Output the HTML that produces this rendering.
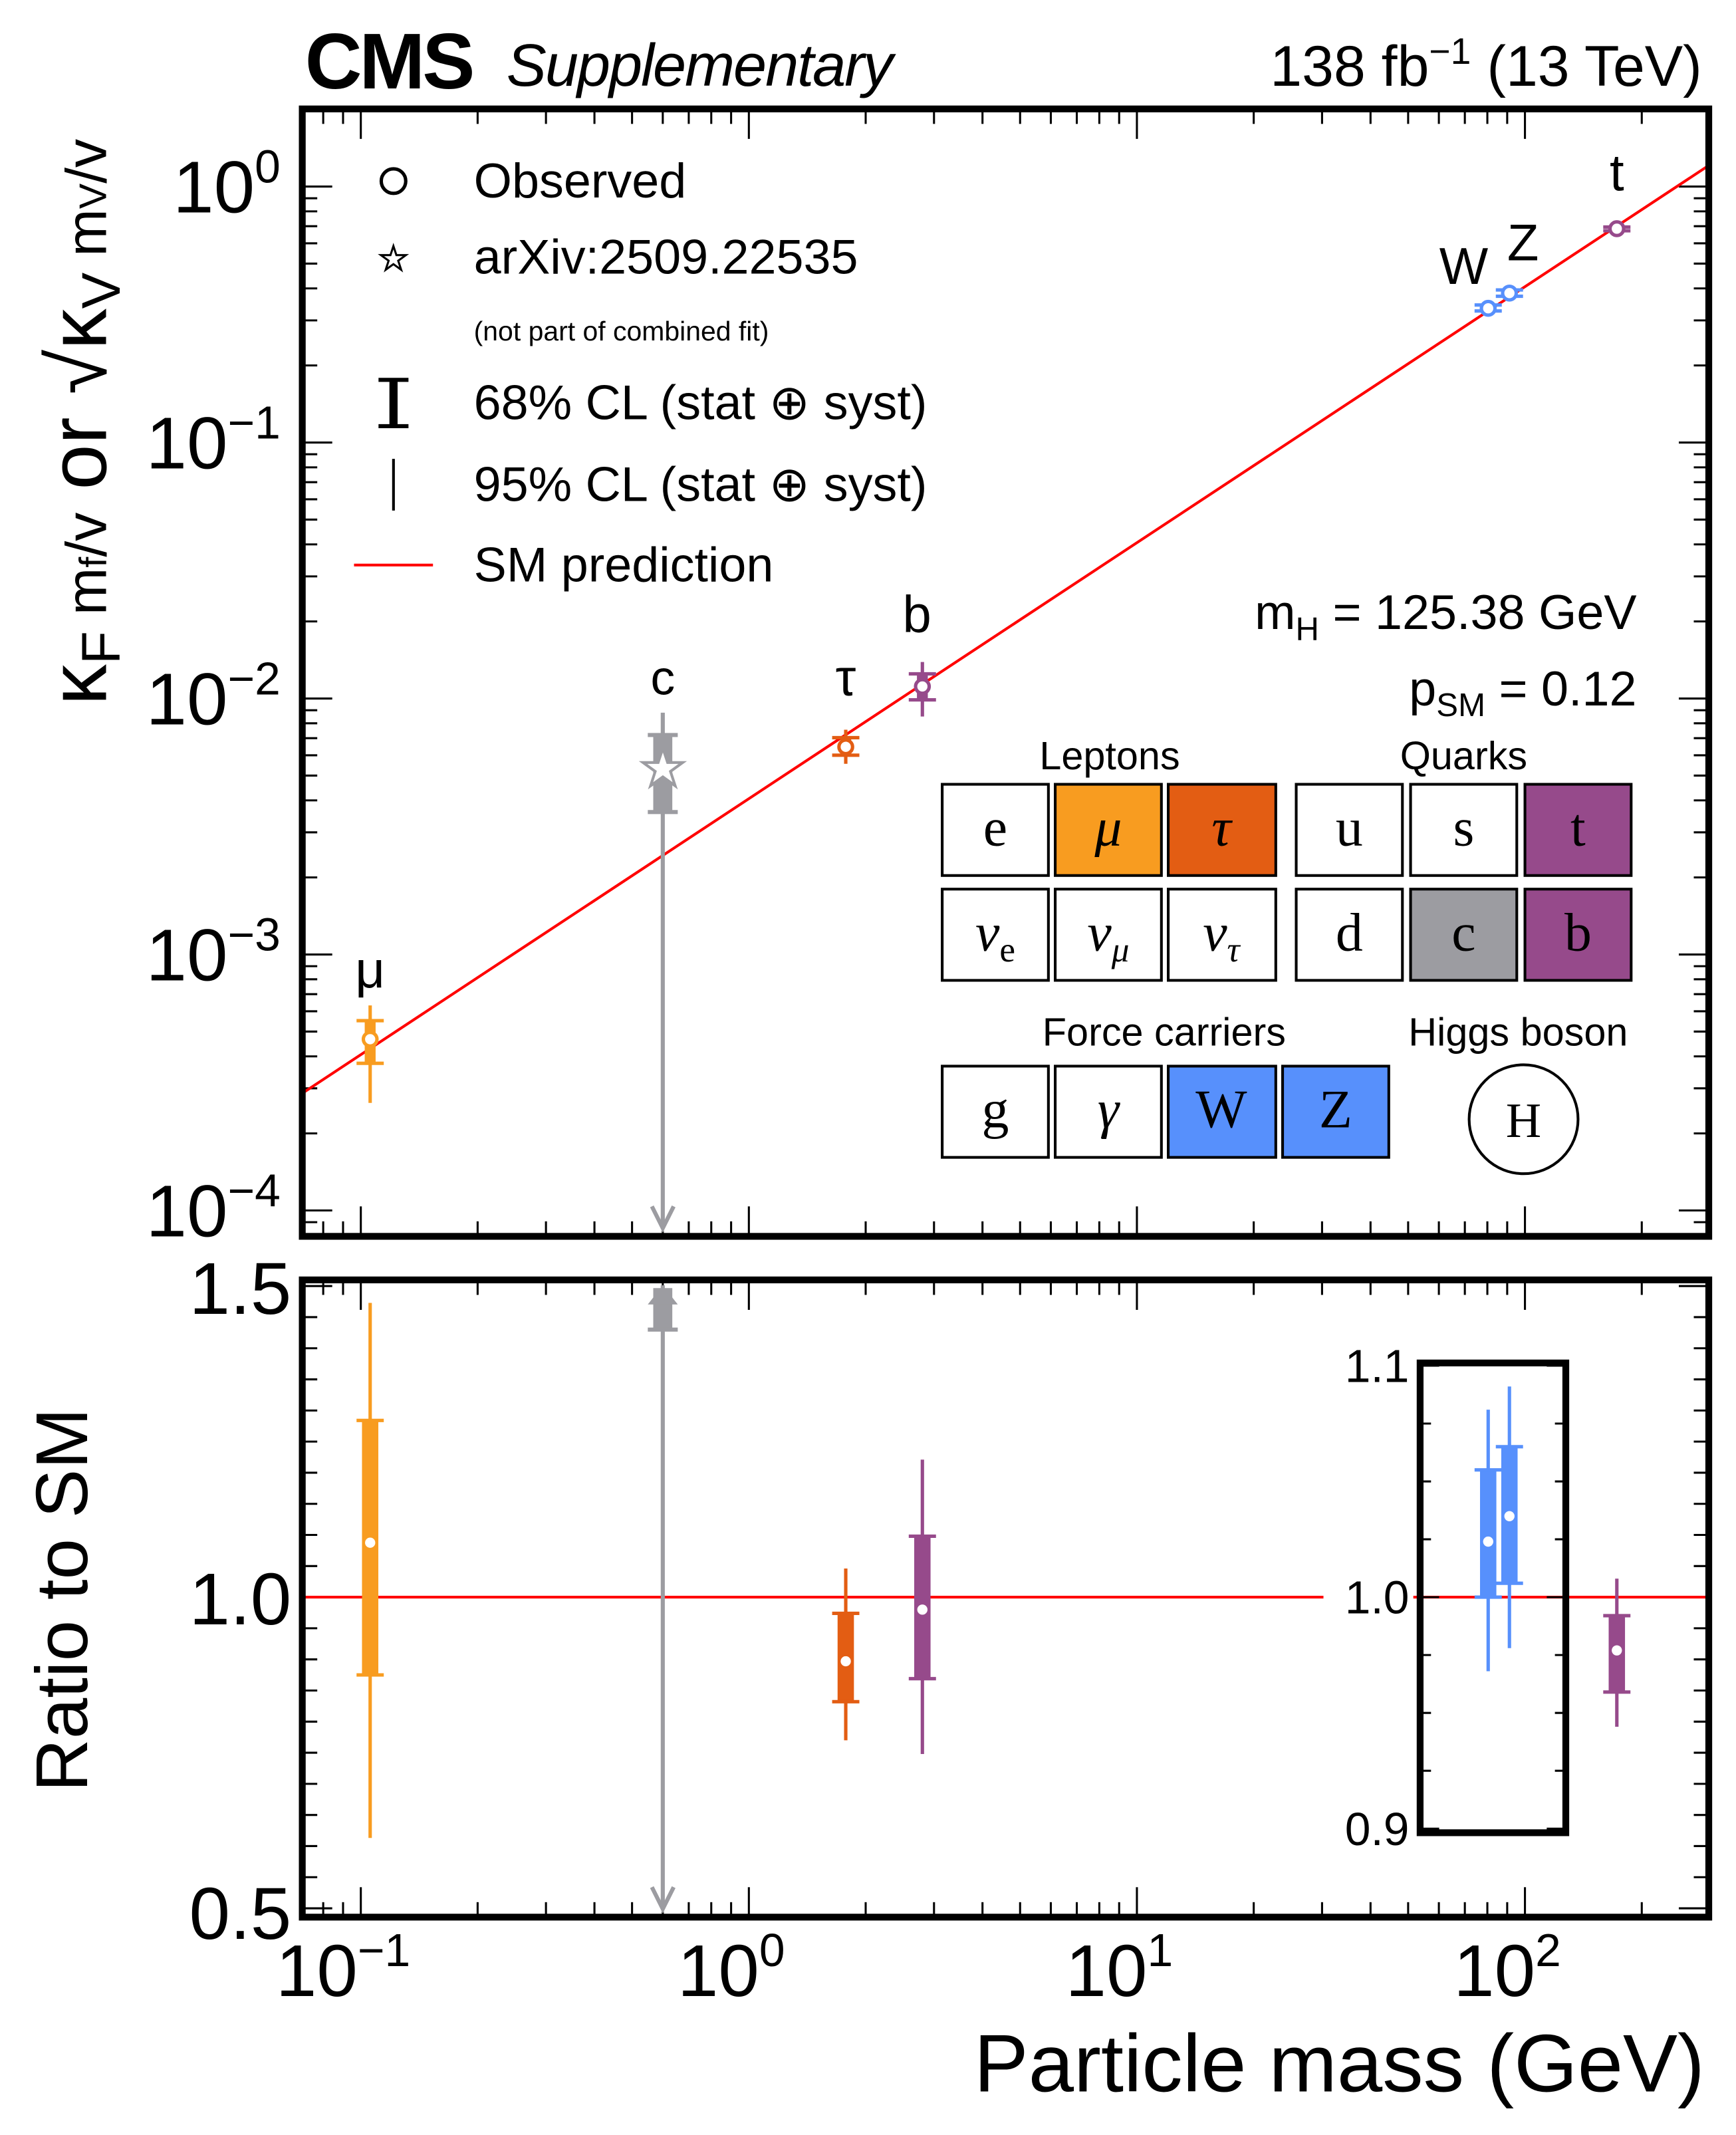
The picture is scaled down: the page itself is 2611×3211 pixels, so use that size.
<!DOCTYPE html>
<html><head><meta charset="utf-8"><style>
html,body{margin:0;padding:0;background:#fff}
svg{display:block;font-family:"Liberation Sans",sans-serif}
</style></head><body>
<svg id="c" width="2611" height="3211" viewBox="0 0 1275 1568" xmlns="http://www.w3.org/2000/svg">
<rect width="1275" height="1568" fill="#fff"/>
<g id="g"></g>
</svg>
<script>
const names=["mu","tau","b","W","Z","t"];
const masses=[0.1057,1.777,2.8,80.4,91.2,172.5];
const ratio=[1.0875,0.897,0.98,1.024,1.035,0.977];
const r68lo=[0.875,0.832,0.869,1.0,1.006,0.959];
const r68hi=[1.284,0.974,1.098,1.055,1.065,0.992];
const r95lo=[0.613,0.77,0.748,0.968,0.978,0.944];
const r95hi=[1.473,1.046,1.221,1.081,1.091,1.008];
const inInset=[false,false,false,true,true,true];
const colors=["#f89c20","#e35d13","#964a8b","#5790fc","#5790fc","#964a8b"];
const labels=["μ","τ","b","W","Z","t"];
const cMass=0.6, cStar=0.0053, c68=[0.0036,0.0072], c95hi=0.0088;
const vev=246.22;
const NS="http://www.w3.org/2000/svg";
const g=document.getElementById('g');
function el(t,a,txt){const e=document.createElementNS(NS,t);for(const k in a)e.setAttribute(k,a[k]);if(txt!=null)e.textContent=txt;g.appendChild(e);return e;}
const X0=222,X1=1255;
const xs=m=>265+285*(Math.log10(m)+1);
const yt=v=>137-188*Math.log10(v);
const yb=r=>1173-457*(r-1);
const yi=r=>1173-1700*(r-1);
const T0=80,T1=908,B0=940,B1=1408;
function xticks(y0,y1){
 for(let d=-2;d<=3;d++)for(let k=1;k<10;k++){const m=k*Math.pow(10,d);const x=xs(m);if(x<=X0||x>=X1)continue;const L=k==1?22:11;
  el('line',{x1:x,x2:x,y1:y0,y2:y0+L,stroke:'#000','stroke-width':1.5});el('line',{x1:x,x2:x,y1:y1,y2:y1-L,stroke:'#000','stroke-width':1.5});}
}
xticks(T0,T1);xticks(B0,B1);
for(let d=-5;d<=1;d++)for(let k=1;k<10;k++){const v=k*Math.pow(10,d);const y=yt(v);if(y<=T0||y>=T1)continue;const L=k==1?22:11;
 el('line',{x1:X0,x2:X0+L,y1:y,y2:y,stroke:'#000','stroke-width':1.5});el('line',{x1:X1,x2:X1-L,y1:y,y2:y,stroke:'#000','stroke-width':1.5});}
for(let i=0;i<=20;i++){const r=0.5+i*0.05;const y=yb(r);if(y<=B0+2||y>=B1-2)continue;const L=(i%10==0)?22:11;
 el('line',{x1:X0,x2:X0+L,y1:y,y2:y,stroke:'#000','stroke-width':1.5});el('line',{x1:X1,x2:X1-L,y1:y,y2:y,stroke:'#000','stroke-width':1.5});}
const mL=Math.pow(10,(X0-265)/285-1),mR=Math.pow(10,(X1-265)/285-1);
let e=el('line',{x1:X0,y1:yt(mL/vev),x2:X1,y2:yt(mR/vev),stroke:'#f00','stroke-width':2});

e=el('line',{x1:X0,y1:1173,x2:X1,y2:1173,stroke:'#f00','stroke-width':2});

el('rect',{x:972,y:1158,width:66,height:30,fill:'#fff'});
e=el('rect',{x:1043,y:1001,width:107,height:345,fill:'none',stroke:'#000','stroke-width':5});

[[1.1,"1.1"],[1.0,"1.0"],[0.9,"0.9"]].forEach(([v,s])=>{el('text',{x:1035,y:yi(v)+12,'font-size':34,'text-anchor':'end'},s);});
for(let i=0;i<=8;i++){const r=0.9+i*0.025;const y=yi(r);const L=(i%4==0)?14:8;
 el('line',{x1:1043,x2:1043+L,y1:y,y2:y,stroke:'#000','stroke-width':1.5});el('line',{x1:1150,x2:1150-L,y1:y,y2:y,stroke:'#000','stroke-width':1.5});}
const cx=xs(cMass);
e=el('line',{x1:cx,x2:cx,y1:yt(c95hi),y2:T1-6,stroke:'#9c9ca1','stroke-width':3});
el('path',{d:`M${cx-8} ${T1-22}L${cx} ${T1-6}L${cx+8} ${T1-22}`,fill:'none',stroke:'#9c9ca1','stroke-width':3});
e=el('rect',{x:cx-7,y:yt(c68[1]),width:14,height:yt(c68[0])-yt(c68[1]),fill:'#9c9ca1'});
el('line',{x1:cx-11,x2:cx+11,y1:yt(c68[1]),y2:yt(c68[1]),stroke:'#9c9ca1','stroke-width':3});
el('line',{x1:cx-11,x2:cx+11,y1:yt(c68[0]),y2:yt(c68[0]),stroke:'#9c9ca1','stroke-width':3});
e=el('text',{x:cx,y:yt(cStar)+12,'font-size':38,'text-anchor':'middle',fill:'#fff',stroke:'#9c9ca1','stroke-width':2},'★');
e=el('text',{x:cx,y:510,'font-size':36,'text-anchor':'middle'},'c');
el('line',{x1:cx,x2:cx,y1:B0+4,y2:B1-6,stroke:'#9c9ca1','stroke-width':3});
el('path',{d:`M${cx-8} ${B1-22}L${cx} ${B1-6}L${cx+8} ${B1-22}`,fill:'none',stroke:'#9c9ca1','stroke-width':3});
el('rect',{x:cx-7,y:B0+6,width:14,height:yb(1.43)-B0-6,fill:'#9c9ca1'});
el('path',{d:`M${cx-11} ${B0+18}L${cx} ${B0+4}L${cx+11} ${B0+18}Z`,fill:'#9c9ca1'});
el('line',{x1:cx-11,x2:cx+11,y1:yb(1.43),y2:yb(1.43),stroke:'#9c9ca1','stroke-width':3});
const labPos=[[0,-38],[0,-38],[-4,-40],[-18,-18],[10,-24],[0,-28]];
names.forEach((n,i)=>{
 const x=xs(masses[i]),col=colors[i],sm=masses[i]/vev;
 const y=yt(ratio[i]*sm);
 e=el('line',{x1:x,x2:x,y1:yt(r95hi[i]*sm),y2:yt(r95lo[i]*sm),stroke:col,'stroke-width':2.5});
 e=el('rect',{x:x-4,y:yt(r68hi[i]*sm),width:8,height:yt(r68lo[i]*sm)-yt(r68hi[i]*sm),fill:col});
 el('line',{x1:x-10,x2:x+10,y1:yt(r68hi[i]*sm),y2:yt(r68hi[i]*sm),stroke:col,'stroke-width':2.5});
 el('line',{x1:x-10,x2:x+10,y1:yt(r68lo[i]*sm),y2:yt(r68lo[i]*sm),stroke:col,'stroke-width':2.5});
 e=el('circle',{cx:x,cy:y,r:5,fill:'#fff',stroke:col,'stroke-width':2.5});
 e=el('text',{x:x+labPos[i][0],y:y+labPos[i][1],'font-size':38,'text-anchor':'middle'},labels[i]);
 const f=inInset[i]?yi:yb;
 e=el('line',{x1:x,x2:x,y1:f(r95hi[i]),y2:f(r95lo[i]),stroke:col,'stroke-width':2.5});
 e=el('rect',{x:x-6,y:f(r68hi[i]),width:12,height:f(r68lo[i])-f(r68hi[i]),fill:col});
 el('line',{x1:x-10,x2:x+10,y1:f(r68hi[i]),y2:f(r68hi[i]),stroke:col,'stroke-width':2.5});
 el('line',{x1:x-10,x2:x+10,y1:f(r68lo[i]),y2:f(r68lo[i]),stroke:col,'stroke-width':2.5});
 e=el('circle',{cx:x,cy:f(ratio[i]),r:4.5,fill:'#fff',stroke:col,'stroke-width':1.5});
});
</script>
<script>
const g2=document.getElementById('g');
g2.insertAdjacentHTML('beforeend',`
<rect x="222" y="80" width="1033" height="828" fill="none" stroke="#000" stroke-width="5"/>
<rect x="222" y="940" width="1033" height="468" fill="none" stroke="#000" stroke-width="5"/>
<text x="224" y="65" font-size="58" font-weight="bold" letter-spacing="-2">CMS</text>
<text x="372" y="63" font-size="44" font-style="italic" letter-spacing="-1">Supplementary</text>
<text x="1250" y="63" font-size="42" text-anchor="end">138 fb<tspan dy="-16" font-size="27">−1</tspan><tspan dy="16"> (13 TeV)</tspan></text>
<g font-size="54" text-anchor="end">
<text x="206" y="156">10<tspan dy="-22" font-size="34">0</tspan></text>
<text x="206" y="344">10<tspan dy="-22" font-size="34">−1</tspan></text>
<text x="206" y="532">10<tspan dy="-22" font-size="34">−2</tspan></text>
<text x="206" y="720">10<tspan dy="-22" font-size="34">−3</tspan></text>
<text x="206" y="908">10<tspan dy="-22" font-size="34">−4</tspan></text>
<text x="214" y="965">1.5</text><text x="214" y="1193">1.0</text><text x="214" y="1424">0.5</text>
</g>
<g font-size="54" text-anchor="middle">
<text x="252" y="1466">10<tspan dy="-22" font-size="34">−1</tspan></text>
<text x="537" y="1466">10<tspan dy="-22" font-size="34">0</tspan></text>
<text x="822" y="1466">10<tspan dy="-22" font-size="34">1</tspan></text>
<text x="1107" y="1466">10<tspan dy="-22" font-size="34">2</tspan></text>
</g>
<text x="1252" y="1536" font-size="60" text-anchor="end">Particle mass (GeV)</text>
<text transform="translate(64,1175) rotate(-90)" font-size="54" text-anchor="middle">Ratio to SM</text>
<text transform="translate(78,310) rotate(-90)" font-size="60" text-anchor="middle">κ<tspan font-size="40" dy="10">F</tspan><tspan dy="-10" font-size="42"> m</tspan><tspan font-size="28">f</tspan><tspan font-size="42">/v</tspan> or √κ<tspan font-size="40" dy="10">V</tspan><tspan dy="-10" font-size="42"> m</tspan><tspan font-size="28">V</tspan><tspan font-size="42">/v</tspan></text>
<g font-size="36">
<circle cx="289" cy="133" r="9" fill="none" stroke="#000" stroke-width="2.5"/><text x="348" y="145">Observed</text>
<text x="289" y="198" font-size="24" text-anchor="middle" fill="#fff" stroke="#000" stroke-width="1.5">★</text><text x="348" y="201">arXiv:2509.22535</text>
<text x="348" y="250" font-size="20">(not part of combined fit)</text>
<rect x="286" y="278" width="6" height="36" fill="#000"/><line x1="278" x2="300" y1="279" y2="279" stroke="#000" stroke-width="3"/><line x1="278" x2="300" y1="313" y2="313" stroke="#000" stroke-width="3"/><text x="348" y="308">68% CL (stat ⊕ syst)</text>
<line x1="289" x2="289" y1="337" y2="375" stroke="#000" stroke-width="2"/><text x="348" y="368">95% CL (stat ⊕ syst)</text>
<line x1="260" x2="318" y1="415" y2="415" stroke="#f00" stroke-width="2"/><text x="348" y="427">SM prediction</text>
</g>
<text x="1202" y="462" font-size="36" text-anchor="end">m<tspan font-size="24" dy="8">H</tspan><tspan dy="-8"> = 125.38 GeV</tspan></text>
<text x="1202" y="518" font-size="36" text-anchor="end">p<tspan font-size="24" dy="8">SM</tspan><tspan dy="-8"> = 0.12</tspan></text>
<g font-size="29" text-anchor="middle">
<text x="815" y="565">Leptons</text><text x="1075" y="565">Quarks</text>
<text x="855" y="768">Force carriers</text><text x="1115" y="768">Higgs boson</text>
</g>
<g font-family="Liberation Serif,serif" font-size="40" text-anchor="middle" stroke="#000" stroke-width="2">
<rect x="692" y="576" width="78" height="67" fill="#fff"/><rect x="775" y="576" width="78" height="67" fill="#f89c20"/><rect x="858" y="576" width="79" height="67" fill="#e35d13"/>
<rect x="952" y="576" width="78" height="67" fill="#fff"/><rect x="1036" y="576" width="78" height="67" fill="#fff"/><rect x="1120" y="576" width="78" height="67" fill="#964a8b"/>
<rect x="692" y="653" width="78" height="67" fill="#fff"/><rect x="775" y="653" width="78" height="67" fill="#fff"/><rect x="858" y="653" width="79" height="67" fill="#fff"/>
<rect x="952" y="653" width="78" height="67" fill="#fff"/><rect x="1036" y="653" width="78" height="67" fill="#9c9ca1"/><rect x="1120" y="653" width="78" height="67" fill="#964a8b"/>
<rect x="692" y="783" width="78" height="67" fill="#fff"/><rect x="775" y="783" width="78" height="67" fill="#fff"/><rect x="858" y="783" width="79" height="67" fill="#5790fc"/><rect x="942" y="783" width="78" height="67" fill="#5790fc"/>
<circle cx="1119" cy="822" r="40" fill="#fff"/>
<g stroke="none" fill="#000">
<text x="731" y="621">e</text><text x="814" y="621" font-style="italic">μ</text><text x="897" y="621" font-style="italic">τ</text>
<text x="991" y="621">u</text><text x="1075" y="621">s</text><text x="1159" y="621">t</text>
<text x="731" y="698" font-style="italic">ν<tspan font-size="26" dy="8" font-style="normal">e</tspan></text><text x="814" y="698" font-style="italic">ν<tspan font-size="26" dy="8">μ</tspan></text><text x="897" y="698" font-style="italic">ν<tspan font-size="26" dy="8">τ</tspan></text>
<text x="991" y="698">d</text><text x="1075" y="698">c</text><text x="1159" y="698">b</text>
<text x="731" y="828">g</text><text x="814" y="828" font-style="italic">γ</text><text x="897" y="828">W</text><text x="981" y="828">Z</text>
<text x="1119" y="835" font-size="36">H</text>
</g></g>
`);
</script>
</body></html>
